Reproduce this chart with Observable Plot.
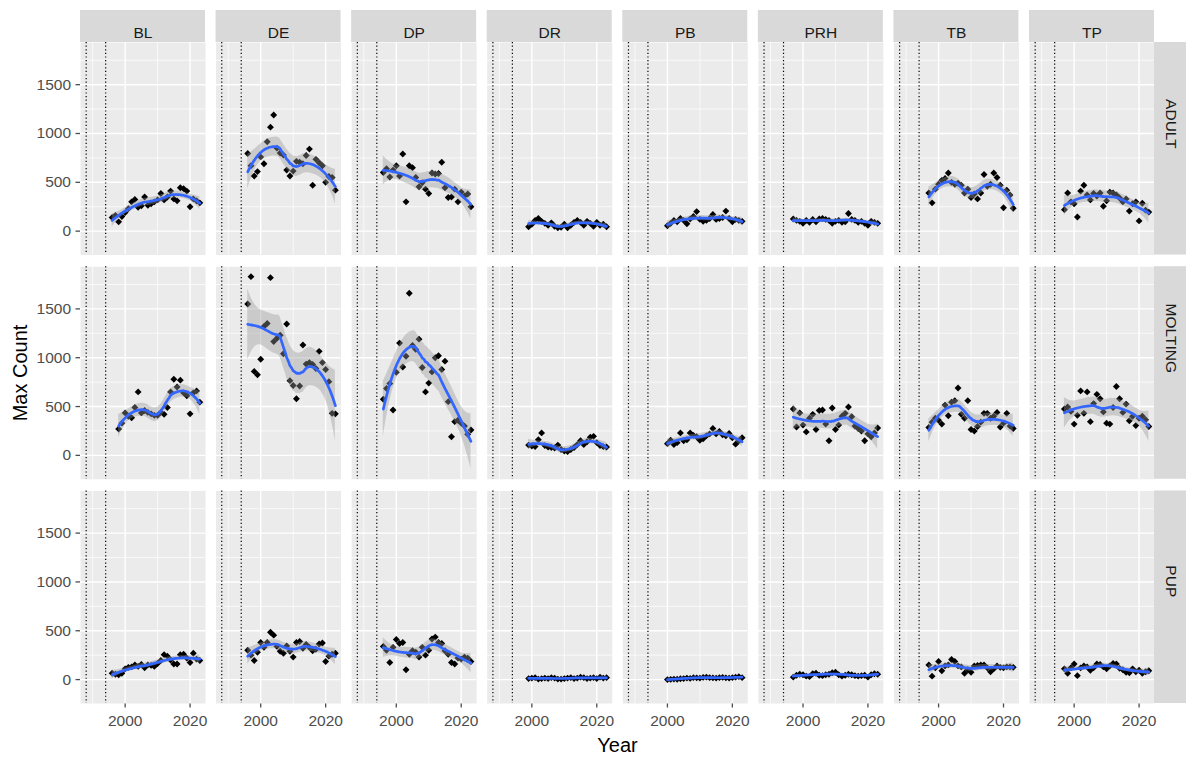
<!DOCTYPE html>
<html>
<head>
<meta charset="utf-8">
<script src="https://cdn.jsdelivr.net/npm/d3@7"></script>
<script src="https://cdn.jsdelivr.net/npm/@observablehq/plot@0.6"></script>
<style>
  body { margin: 0; background: #ffffff; }
  #chart svg { display: block; font-family: "Liberation Sans", Arial, sans-serif; font-size: 15.5px; }
  #chart svg g[aria-label="x-axis tick"], #chart svg g[aria-label="y-axis tick"] { stroke: #333333; stroke-width: 1.3px; }
  #chart svg g[aria-label="x-axis tick label"], #chart svg g[aria-label="y-axis tick label"] { fill: #4D4D4D; font-size: 15.5px; }
  #chart svg g[aria-label="x-axis label"], #chart svg g[aria-label="y-axis label"] { fill: #000000; font-size: 20px; }
  #chart svg g[aria-label="strip label"] { font-size: 15.5px; }
</style>
</head>
<body>
<div id="chart"></div>
<script>
// ---------- data ----------
const colonies = ["BL", "DE", "DP", "DR", "PB", "PRH", "TB", "TP"];
const ageClasses = ["ADULT", "MOLTING", "PUP"];
const firstYear = [1996, 1996, 1996, 1999, 2000, 1997, 1997, 1997]; // first survey year per colony (last = 2023)
const xTicks = [2000, 2020];
const xMinor = [1990, 2010];
const yTicks = [0, 500, 1000, 1500];
const yMinor = [250, 750, 1250, 1750];
const refYears = [1988, 1994];

// ADULT
const adultBL  = [140,160,95,150,190,230,300,325,245,260,350,265,280,300,320,385,320,350,410,330,310,445,435,410,250,330,310,290];
const adultDE  = [795,670,565,610,760,690,915,1065,1190,850,800,780,625,565,615,715,705,690,775,840,470,735,700,670,500,560,550,420];
const adultDP  = [600,640,555,625,670,565,790,300,670,650,550,455,495,430,385,595,585,590,705,445,345,350,430,300,400,360,380,250];
const adultDR  = [45,70,110,130,100,80,60,85,50,35,40,70,35,60,90,110,90,60,100,80,50,90,60,70,45];
const adultPB  = [55,80,110,95,130,110,75,125,150,200,120,100,110,130,170,120,130,140,205,130,95,120,110,100];
const adultPRH = [125,110,100,80,110,90,120,95,125,130,120,110,80,100,110,90,95,180,120,110,90,100,80,60,100,90,80];
const adultTB  = [390,290,430,480,520,540,595,500,480,490,470,390,430,345,380,330,390,580,460,480,595,550,470,240,420,370,235];
const adultTP  = [220,390,300,280,145,410,470,370,320,385,360,390,255,310,400,390,370,340,300,330,205,280,300,105,285,215,195];
// MOLTING
const moltBL  = [null,null,270,330,435,400,385,490,650,435,460,440,425,410,410,440,420,490,650,780,700,770,640,610,425,640,660,545];
const moltDE  = [1550,1830,860,825,985,1320,1350,1820,1165,1200,1230,1040,1345,765,715,580,710,1130,935,950,930,890,1065,950,880,755,430,425];
const moltDP  = [575,685,735,465,850,1150,905,1015,1660,1125,1085,1190,900,650,740,855,1000,1020,880,965,550,190,345,360,330,300,215,260];
const moltDR  = [105,95,90,160,230,100,85,80,75,105,60,45,40,60,80,110,150,110,140,185,195,130,100,90,85];
const moltPB  = [120,155,110,130,230,150,160,230,205,190,155,170,200,220,275,220,245,210,200,225,180,115,150,180];
const moltPRH = [475,290,435,310,240,380,420,265,460,465,320,150,485,265,310,400,430,495,395,300,275,250,150,220,190,230,280];
const moltTB  = [285,340,380,360,320,515,405,545,560,690,420,380,560,265,250,295,340,430,430,380,400,440,290,330,430,300,275];
const moltTP  = [475,495,450,320,410,660,430,650,345,530,625,580,445,330,320,490,705,580,440,525,355,400,305,380,400,365,295];
// PUP
const pupBL  = [65,55,50,65,110,125,130,150,135,155,120,150,145,135,165,195,255,240,200,160,160,255,260,220,175,270,210,195];
const pupDE  = [300,250,195,280,380,330,380,485,455,340,290,270,345,290,230,380,390,320,360,330,295,310,365,375,185,240,260,270];
const pupDP  = [340,300,175,330,410,370,380,100,260,295,280,230,330,250,300,415,435,380,370,295,260,175,160,220,210,230,220,185];
const pupDR  = [10,15,20,5,10,15,10,20,15,5,5,10,15,20,10,15,25,20,10,15,20,10,25,15,20];
const pupPB  = [0,2,5,3,8,10,15,12,20,18,15,22,25,20,18,15,20,22,18,15,20,25,30,20];
const pupPRH = [25,45,55,50,35,30,60,65,45,40,50,55,70,75,50,35,45,55,50,40,35,40,45,25,50,60,55];
const pupTB  = [150,35,120,185,90,140,150,205,185,140,130,65,100,75,140,145,150,150,120,80,110,140,125,120,130,130,125];
const pupTP  = [110,65,120,160,40,120,140,130,95,120,160,155,130,110,140,165,160,115,100,75,70,110,80,95,65,80,90];

const seriesByAge = {
  ADULT:   [adultBL, adultDE, adultDP, adultDR, adultPB, adultPRH, adultTB, adultTP],
  MOLTING: [moltBL, moltDE, moltDP, moltDR, moltPB, moltPRH, moltTB, moltTP],
  PUP:     [pupBL, pupDE, pupDP, pupDR, pupPB, pupPRH, pupTB, pupTP]
};

// ---------- loess (as geom_smooth: span 0.75, degree 2, 95% band) ----------
function solve3(A, b) {
  const M = A.map((r, i) => [...r, b[i]]);
  for (let c = 0; c < 3; c++) {
    let p = c;
    for (let r = c + 1; r < 3; r++) if (Math.abs(M[r][c]) > Math.abs(M[p][c])) p = r;
    [M[c], M[p]] = [M[p], M[c]];
    for (let r = c + 1; r < 3; r++) {
      const f = M[r][c] / M[c][c];
      for (let k = c; k < 4; k++) M[r][k] -= f * M[c][k];
    }
  }
  const z = [0, 0, 0];
  for (let r = 2; r >= 0; r--) {
    let s = M[r][3];
    for (let k = r + 1; k < 3; k++) s -= M[r][k] * z[k];
    z[r] = s / M[r][r];
  }
  return z;
}
function tQuantile975(df) {
  const z = 1.959963985;
  const g1 = (z ** 3 + z) / 4;
  const g2 = (5 * z ** 5 + 16 * z ** 3 + 3 * z) / 96;
  const g3 = (3 * z ** 7 + 19 * z ** 5 + 17 * z ** 3 - 15 * z) / 384;
  const g4 = (79 * z ** 9 + 776 * z ** 7 + 1482 * z ** 5 - 1920 * z ** 3 - 945 * z) / 92160;
  return z + g1 / df + g2 / df ** 2 + g3 / df ** 3 + g4 / df ** 4;
}
function loessSmooth(xs, ys, nGrid = 80, span = 0.75) {
  const n = xs.length, q = Math.floor(n * span);
  const row = x0 => {
    const d = xs.map(x => Math.abs(x - x0));
    const h = d.slice().sort((a, b) => a - b)[q - 1] * Math.max(1, span);
    const w = d.map(di => { const u = di / h; return u < 1 ? Math.pow(1 - u * u * u, 3) : 0; });
    const S = [[0, 0, 0], [0, 0, 0], [0, 0, 0]];
    xs.forEach((x, i) => {
      const t = x - x0, b = [1, t, t * t];
      for (let a = 0; a < 3; a++) for (let c = 0; c < 3; c++) S[a][c] += w[i] * b[a] * b[c];
    });
    const z = solve3(S, [1, 0, 0]);
    return xs.map((x, i) => { const t = x - x0; return w[i] * (z[0] + z[1] * t + z[2] * t * t); });
  };
  const L = xs.map(row);
  const fitted = L.map(r => r.reduce((s, v, i) => s + v * ys[i], 0));
  const A = L.map((r, i) => r.map((v, j) => (i === j ? 1 : 0) - v));
  let d1 = 0, d2 = 0;
  for (let j = 0; j < n; j++) for (let k = 0; k < n; k++) {
    let m = 0;
    for (let i = 0; i < n; i++) m += A[i][j] * A[i][k];
    if (j === k) d1 += m;
    d2 += m * m;
  }
  const rss = ys.reduce((s, y, i) => s + (y - fitted[i]) ** 2, 0);
  const s = Math.sqrt(rss / d1);
  const tq = tQuantile975(d1 * d1 / d2);
  const lo = d3.min(xs), hi = d3.max(xs);
  return d3.range(nGrid).map(k => {
    const x0 = lo + (hi - lo) * k / (nGrid - 1);
    const r = row(x0);
    const f = r.reduce((a, v, i) => a + v * ys[i], 0);
    const se = s * Math.sqrt(r.reduce((a, v) => a + v * v, 0));
    return {x0, fit: f, lo: f - tq * se, hi: f + tq * se};
  });
}

// ---------- tidy tables ----------
const points = [];
const smooth = [];
ageClasses.forEach(age => {
  colonies.forEach((colony, ci) => {
    const vals = seriesByAge[age][ci];
    const xs = [], ys = [];
    vals.forEach((v, i) => {
      if (v == null) return;
      const year = firstYear[ci] + i;
      points.push({colony, age, year, count: v});
      xs.push(year); ys.push(v);
    });
    loessSmooth(xs, ys).forEach(d => smooth.push({colony, age, key: colony + "-" + age, year: d.x0, fit: d.fit, lo: d.lo, hi: d.hi}));
  });
});
const stripTop = colonies.map(colony => ({colony, age: ageClasses[0]}));
const stripRight = ageClasses.map(age => ({colony: colonies[colonies.length - 1], age}));

// ---------- layout ----------
const W = 1197, H = 765, mL = 80, mR = 43, mT = 42, mB = 62;
const fxPad = 0.078, fyPad = 0.052, stripSize = 32;
const bwX = (W - mL - mR) / (colonies.length - fxPad) * (1 - fxPad);
const bwY = (H - mT - mB) / (ageClasses.length - fyPad) * (1 - fyPad);

const chart = Plot.plot({
  width: W, height: H,
  marginTop: mT, marginBottom: mB, marginLeft: mL, marginRight: mR,
  style: {fontFamily: "Liberation Sans, Arial, sans-serif", fontSize: "15.5px", background: "#ffffff", color: "#4D4D4D", overflow: "visible"},
  fx: {domain: colonies, paddingInner: fxPad, paddingOuter: 0, round: false, axis: null, label: null},
  fy: {domain: ageClasses, paddingInner: fyPad, paddingOuter: 0, round: false, axis: null, label: null},
  x: {domain: [1986.25, 2024.75], ticks: xTicks, tickFormat: "d", tickSize: 4.5, tickPadding: 7,
      label: "Year", labelAnchor: "center", labelOffset: 48, labelArrow: "none"},
  y: {domain: [-245, 1932], ticks: yTicks, tickFormat: "d", tickSize: 4.5, tickPadding: 5,
      label: "Max Count", labelAnchor: "center", labelOffset: 68, labelArrow: "none"},
  marks: [
    Plot.frame({fill: "#EBEBEB", stroke: "none"}),
    Plot.gridY(yMinor, {stroke: "#ffffff", strokeOpacity: 1, strokeWidth: 0.7}),
    Plot.gridX(xMinor, {stroke: "#ffffff", strokeOpacity: 1, strokeWidth: 0.7}),
    Plot.gridY(yTicks, {stroke: "#ffffff", strokeOpacity: 1, strokeWidth: 1.4}),
    Plot.gridX(xTicks, {stroke: "#ffffff", strokeOpacity: 1, strokeWidth: 1.4}),
    Plot.ruleX(refYears, {stroke: "#000000", strokeWidth: 1.2, strokeDasharray: "1.2,2.4"}),
    Plot.dot(points, {x: "year", y: "count", fx: "colony", fy: "age", symbol: "diamond2", r: 3.1, fill: "#000000"}),
    Plot.areaY(smooth, {x: "year", y1: "lo", y2: "hi", z: "key", fx: "colony", fy: "age", fill: "#999999", fillOpacity: 0.4}),
    Plot.line(smooth, {x: "year", y: "fit", z: "key", fx: "colony", fy: "age", stroke: "#3366FF", strokeWidth: 2.7}),
    Plot.rect(stripTop, {fx: "colony", fy: "age", fill: "#D9D9D9", insetTop: -stripSize, insetBottom: bwY}),
    Plot.text(stripTop, {fx: "colony", fy: "age", text: "colony", frameAnchor: "top", dy: -stripSize / 2, fill: "#1A1A1A", fontSize: 15.5, ariaLabel: "strip label"}),
    Plot.rect(stripRight, {fx: "colony", fy: "age", fill: "#D9D9D9", insetLeft: bwX, insetRight: -stripSize}),
    Plot.text(stripRight, {fx: "colony", fy: "age", text: "age", frameAnchor: "right", dx: stripSize / 2, rotate: 90, fill: "#1A1A1A", fontSize: 15.5, ariaLabel: "strip label"})
  ]
});
document.getElementById("chart").appendChild(chart);
</script>
</body>
</html>
